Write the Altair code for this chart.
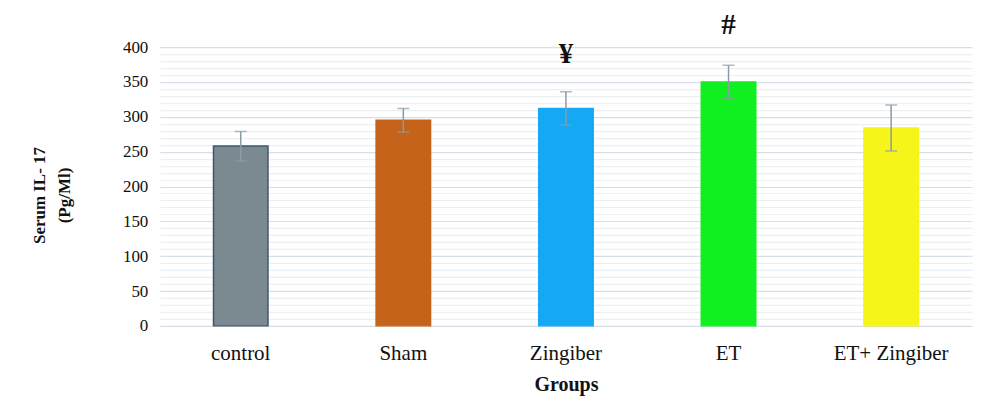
import altair as alt
import pandas as pd

groups = ["control", "Sham", "Zingiber", "ET", "ET+ Zingiber"]
means = [258, 295, 312, 350, 284]
errors = [21, 17, 24, 24, 33]
colors = ["#7a8a90", "#c5631a", "#14a8f5", "#10f020", "#f5f51a"]
strokes = ["#3b5870", "#c5631a", "#14a8f5", "#10f020", "#f5f51a"]
marks = ["", "", "¥", "#", ""]
mark_y = [390, 0, 390, 432, 0]

df = pd.DataFrame({
    "group": groups,
    "mean": means,
    "lo": [m - e for m, e in zip(means, errors)],
    "hi": [m + e for m, e in zip(means, errors)],
    "color": colors,
    "stroke": strokes,
    "sig": marks,
    "sig_y": mark_y,
})

FONT = "Liberation Serif"
tick_vals = list(range(0, 401, 10))

x_scale = alt.Scale(paddingInner=0.665, paddingOuter=0.33)
x_axis = alt.Axis(title="Groups", labelAngle=0, domain=False, ticks=False,
                  labelPadding=17, labelFontSize=21, labelFont=FONT, labelColor="#111",
                  titleFont=FONT, titleFontSize=20, titleFontWeight="bold",
                  titlePadding=11, titleColor="#111")
x = alt.X("group:N", sort=groups, scale=x_scale, axis=x_axis)

y_axis = alt.Axis(
    values=tick_vals,
    labelExpr="datum.value % 50 === 0 ? datum.label : ''",
    gridColor=alt.condition("datum.value % 50 === 0", alt.value("#d6dee7"), alt.value("#edf0f3")),
    gridWidth=1.2,
    domain=False, ticks=False, labelPadding=12,
    labelFont=FONT, labelFontSize=17, labelColor="#111",
    title=["Serum IL- 17", "(Pg/Ml)"], titleFont=FONT, titleFontSize=17,
    titleFontWeight="bold", titleColor="#111", titleAngle=270,
    titleX=-120, titleY=148, titleAlign="center", titleBaseline="middle",
    titleLineHeight=25,
)
sc = alt.Scale(domain=[0, 400], nice=False)


def yq(field):
    return alt.Y(field, type="quantitative", scale=sc, axis=y_axis)


base = alt.Chart(df)

bars = base.mark_bar(strokeWidth=1.5).encode(
    x=x, y=yq("mean"),
    color=alt.Color("color:N", scale=None),
    stroke=alt.Stroke("stroke:N", scale=None),
)

ecol = "#8a9ca4"
err = base.mark_rule(color=ecol, strokeWidth=1.5).encode(
    x=x, y=yq("lo"), y2="hi:Q")
cap_lo = base.mark_tick(color=ecol, thickness=1.5, size=12, orient="horizontal").encode(
    x=x, y=yq("lo"))
cap_hi = base.mark_tick(color=ecol, thickness=1.5, size=12, orient="horizontal").encode(
    x=x, y=yq("hi"))

sig = base.transform_filter("datum.sig !== ''").mark_text(
    font=FONT, fontSize=29, fontWeight="bold", color="#111", baseline="middle").encode(
    x=x, y=yq("sig_y"), text="sig:N")

chart = alt.layer(bars, err, cap_lo, cap_hi, sig).properties(
    width=813, height=279,
    background="white",
    autosize=alt.AutoSizeParams(type="none"),
    padding={"left": 152, "top": 39, "right": 20, "bottom": 71},
).configure_view(strokeWidth=0)

chart.save("out.html", embed_options={"renderer": "svg", "actions": False})
